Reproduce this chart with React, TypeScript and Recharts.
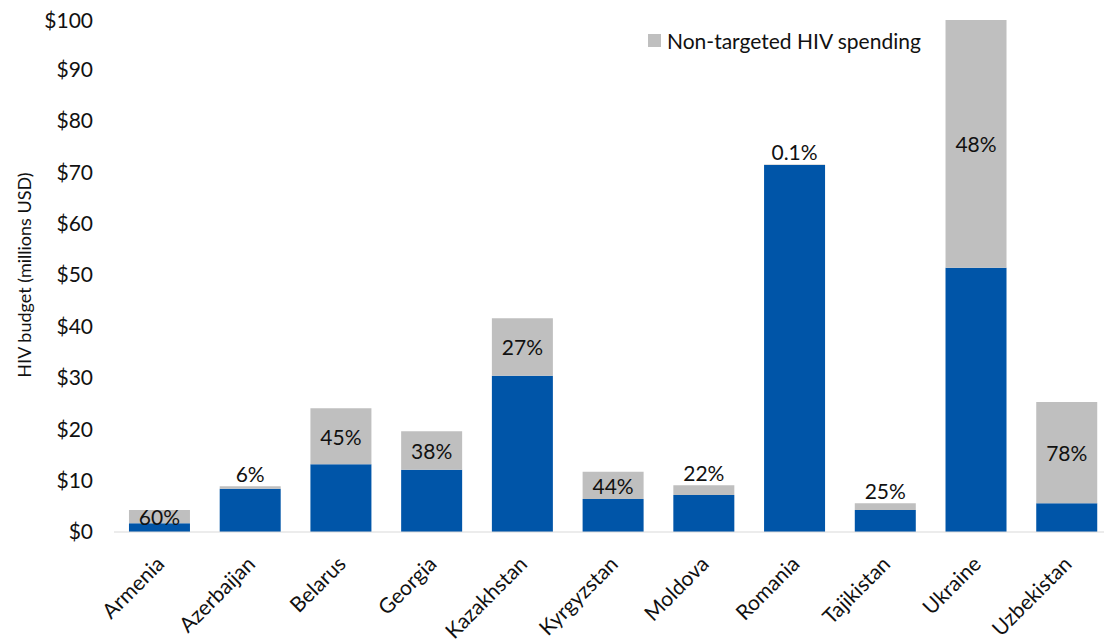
import React from "react";
import { BarChart, Bar, XAxis, YAxis, Legend, LabelList } from "recharts";

const countries = [
  "Armenia",
  "Azerbaijan",
  "Belarus",
  "Georgia",
  "Kazakhstan",
  "Kyrgyzstan",
  "Moldova",
  "Romania",
  "Tajikistan",
  "Ukraine",
  "Uzbekistan",
];
// millions USD
const targeted = [1.7, 8.4, 13.2, 12.1, 30.4, 6.4, 7.2, 71.4, 4.3, 51.4, 5.6];
const nonTargeted = [2.6, 0.5, 10.9, 7.5, 11.2, 5.3, 1.9, 0.1, 1.3, 48.2, 19.7];
const shareLabels = ["60%", "6%", "45%", "38%", "27%", "44%", "22%", "0.1%", "25%", "48%", "78%"];
const yTicks = [0, 10, 20, 30, 40, 50, 60, 70, 80, 90, 100];

const BLUE = "#0055A8";
const GRAY = "#BFBFBF";
const FONT = "Lato, 'Open Sans', sans-serif";

const data = countries.map((name, i) => ({
  name,
  targeted: targeted[i],
  nonTargeted: nonTargeted[i],
  label: shareLabels[i],
  share: parseFloat(shareLabels[i]) / 100,
}));

const ShareLabel = (props: any) => {
  const { x, y, width, height, index } = props;
  const d = data[index];
  const cx = x + width / 2;
  const inside = d.share >= 0.26;
  const ty = inside ? y + height / 2 : y - 4;
  return (
    <text
      x={cx}
      y={ty}
      textAnchor="middle"
      dominantBaseline={inside ? "central" : "auto"}
      fontSize={21}
      fontFamily={FONT}
      fill="#111"
    >
      {d.label}
    </text>
  );
};

const CountryTick = (props: any) => {
  const { x, y, payload } = props;
  const ax = x - 4;
  const ay = y + 15;
  return (
    <text
      x={ax}
      y={ay}
      textAnchor="end"
      transform={`rotate(-45, ${ax}, ${ay})`}
      fontSize={21}
      fontFamily={FONT}
      fill="#111"
      dy="0.7em"
    >
      {payload.value}
    </text>
  );
};

const YLabel = (props: any) => {
  const vb = props.viewBox || {};
  const cy = vb.y + vb.height / 2;
  const cx = 16;
  return (
    <text
      x={cx}
      y={cy}
      transform={`rotate(-90, ${cx}, ${cy})`}
      textAnchor="middle"
      dominantBaseline="central"
      fontSize={18}
      fontFamily={FONT}
      fill="#111"
    >
      HIV budget (millions USD)
    </text>
  );
};

const LegendBox = () => (
  <div style={{ display: "flex", alignItems: "center", fontFamily: FONT, fontSize: 21, color: "#111" }}>
    <span style={{ width: 13, height: 13, background: GRAY, display: "inline-block", marginRight: 6 }} />
    Non-targeted HIV spending
  </div>
);

export default function App() {
  return (
    <BarChart
      width={1104}
      height={632}
      data={data}
      margin={{ top: 10, right: 0, bottom: 0, left: 0 }}
      barCategoryGap="16.5%"
    >
      <XAxis
        dataKey="name"
        interval={0}
        height={108}
        tickLine={false}
        axisLine={{ stroke: "#D9D9D9" }}
        tick={<CountryTick />}
      />
      <YAxis
        width={106}
        domain={[0, 100]}
        ticks={yTicks}
        axisLine={false}
        tickLine={false}
        tickSize={0}
        tickMargin={21}
        tickFormatter={(v: number) => `$${v}`}
        tick={{ fontSize: 21, fontFamily: FONT, fill: "#111" }}
        label={<YLabel />}
      />
      <Legend
        verticalAlign="middle"
        align="center"
        content={<LegendBox />}
        wrapperStyle={{ position: "absolute", top: 20, left: 640, width: "auto" }}
      />
      <Bar dataKey="targeted" stackId="a" fill={BLUE} isAnimationActive={false} legendType="none" />
      <Bar dataKey="nonTargeted" stackId="a" fill={GRAY} isAnimationActive={false}>
        <LabelList dataKey="label" content={<ShareLabel />} />
      </Bar>
    </BarChart>
  );
}
